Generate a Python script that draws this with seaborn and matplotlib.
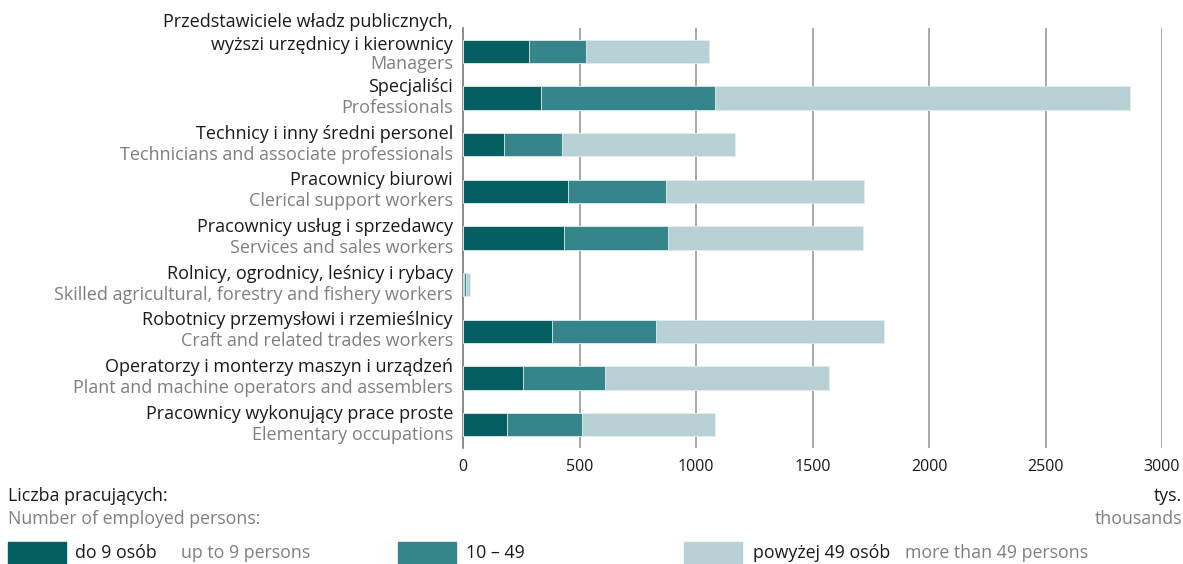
import pandas as pd
import numpy as np
import matplotlib.pyplot as plt
import seaborn as sns
from matplotlib.patches import Rectangle

# occupation groups (Polish / English), values in thousands
pl_labels = ['Przedstawiciele władz publicznych,\nwyższi urzędnicy i kierownicy',
             'Specjaliści',
             'Technicy i inny średni personel',
             'Pracownicy biurowi',
             'Pracownicy usług i sprzedawcy',
             'Rolnicy, ogrodnicy, leśnicy i rybacy',
             'Robotnicy przemysłowi i rzemieślnicy',
             'Operatorzy i monterzy maszyn i urządzeń',
             'Pracownicy wykonujący prace proste']
en_labels = ['Managers',
             'Professionals',
             'Technicians and associate professionals',
             'Clerical support workers',
             'Services and sales workers',
             'Skilled agricultural, forestry and fishery workers',
             'Craft and related trades workers',
             'Plant and machine operators and assemblers',
             'Elementary occupations']
small = [283, 333, 178, 450, 433, 3, 380, 256, 188]      # do 9 osób
medium = [243, 749, 247, 422, 447, 8, 450, 353, 321]     # 10 - 49
large = [530, 1779, 742, 850, 835, 18, 977, 963, 573]    # powyżej 49 osób

xticks = [0, 500, 1000, 1500, 2000, 2500, 3000]

dark = '#035e62'
mid = '#36858a'
light = '#b8d1d5'
black = '#1a1a1a'
grey = '#7f7f7f'

df = pd.DataFrame({'cat': pl_labels, 'small': small, 'medium': medium, 'large': large})
df['c2'] = df['small'] + df['medium']
df['c3'] = df['c2'] + df['large']

sns.set_style('white')
plt.rcParams['font.family'] = ['Open Sans', 'DejaVu Sans']

W, H = 1183, 564
fig = plt.figure(figsize=(W / 100, H / 100), dpi=100)
ax = fig.add_axes([463 / W, 1 - 448 / H, (1162 - 463) / W, (448 - 28) / H])

# stacked bars: draw totals first, then partial sums on top
for col, c in [('c3', light), ('c2', mid), ('small', dark)]:
    sns.barplot(data=df, y='cat', x=col, color=c, saturation=1, width=0.5,
                orient='h', ax=ax, edgecolor='#e4eef0', linewidth=0.6, zorder=3)

ax.set_xlim(0, 3000)
ax.set_xticks(xticks)
ax.set_xticklabels([str(t) for t in xticks], fontsize=11.5, color=black)
ax.tick_params(axis='x', length=0, pad=8)
ax.set_yticks([])
ax.set_xlabel('')
ax.set_ylabel('')
for s in ['top', 'right', 'bottom']:
    ax.spines[s].set_visible(False)
ax.spines['left'].set_color('#777777')
ax.spines['left'].set_linewidth(1.2)
for t in xticks[1:]:
    ax.axvline(t, color='#999999', lw=1.2, zorder=1)

# category labels left of the axis
for i, (pl, en) in enumerate(zip(pl_labels, en_labels)):
    lines = pl.split('\n')
    if len(lines) == 1:
        offs_pl, off_en = [11], -10
    else:
        offs_pl, off_en = [29, 6], -13
    for ln, o in zip(lines, offs_pl):
        ax.annotate(ln, xy=(0, i), xycoords=('axes fraction', 'data'),
                    xytext=(-10, o), textcoords='offset pixels',
                    ha='right', va='center', fontsize=13, color=black)
    ax.annotate(en, xy=(0, i), xycoords=('axes fraction', 'data'),
                xytext=(-10, off_en), textcoords='offset pixels',
                ha='right', va='center', fontsize=13, color=grey)

# bottom annotations and legend
fs = 12.8
fig.text(8 / W, 1 - 496 / H, 'Liczba pracujących:', fontsize=fs, color=black, va='center')
fig.text(8 / W, 1 - 519 / H, 'Number of employed persons:', fontsize=fs, color=grey, va='center')
fig.text(1182 / W, 1 - 496 / H, 'tys.', fontsize=fs, color=black, va='center', ha='right')
fig.text(1182 / W, 1 - 519 / H, 'thousands', fontsize=fs, color=grey, va='center', ha='right')

leg = [(8, dark, 75, 'do 9 osób', 181, 'up to 9 persons'),
       (398, mid, 466, '10 – 49', None, None),
       (684, light, 753, 'powyżej 49 osób', 905, 'more than 49 persons')]
for px, c, tx, t1, gx, t2 in leg:
    fig.add_artist(Rectangle((px / W, 1 - 564 / H), 58 / W, 22 / H,
                             transform=fig.transFigure, color=c))
    fig.text(tx / W, 1 - 553 / H, t1, fontsize=fs, color=black, va='center')
    if t2:
        fig.text(gx / W, 1 - 553 / H, t2, fontsize=fs, color=grey, va='center')

fig.savefig('out.png', dpi=100)
